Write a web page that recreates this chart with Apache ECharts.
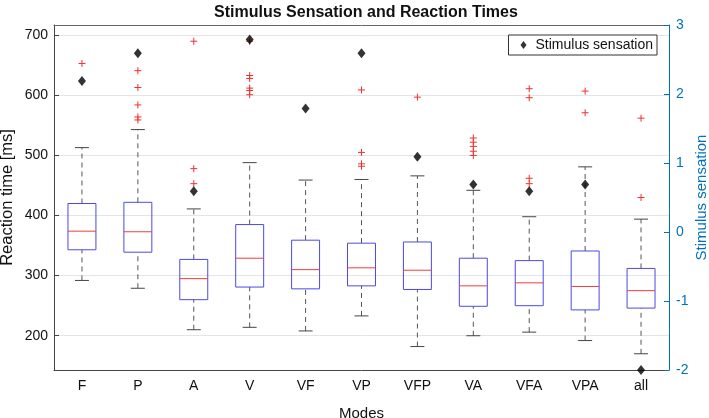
<!DOCTYPE html>
<html><head><meta charset="utf-8">
<script src="https://cdn.jsdelivr.net/npm/echarts@6/dist/echarts.min.js"></script>
<style>html,body{margin:0;padding:0;background:#fff}#c{width:709px;height:418px}</style>
</head><body><div id="c"></div>
<script>
const modes = ['F','P','A','V','VF','VP','VFP','VA','VFA','VPA','all'];
const whiskerLow  = [292,279,210,214,208,233,182,200,206,192,170];
const q1          = [343,339,260,281,278,283,277,249,250,243,246];
const median      = [374,373,295,329,310,313,309,283,288,282,275];
const q3          = [420,422,327,385,359,354,356,329,325,341,312];
const whiskerHigh = [513,543,411,488,459,460,466,442,398,481,394];
const outliers = [
  [653],
  [641,613,584,564,559],
  [690,478,453],
  [690,633,628,612,608,601],
  [],
  [609,505,486,482],
  [597],
  [529,522,515,507,500],
  [611,596,462,453],
  [607,571],
  [562,430]
];
const sensation = [2.19,2.59,0.59,2.79,1.79,2.59,1.09,0.69,0.59,0.69,-2];
const leftTicks = [200,300,400,500,600,700];

const FONT = '"Liberation Sans", Arial, Helvetica, sans-serif';
const BLUE_AX = '#0072BD';

const boxData = modes.map((m,i)=>[i, whiskerLow[i], q1[i], median[i], q3[i], whiskerHigh[i]]);
const outData = [];
outliers.forEach((arr,i)=>arr.forEach(v=>outData.push([i,v])));
const sensData = sensation.map((v,i)=>[i,v]);

function renderBox(params, api){
  const i = api.value(0);
  const lo = api.coord([i, api.value(1)]);
  const b1 = api.coord([i, api.value(2)]);
  const md = api.coord([i, api.value(3)]);
  const b3 = api.coord([i, api.value(4)]);
  const hi = api.coord([i, api.value(5)]);
  const bw = api.size([1,0])[0]*0.5;
  const x = lo[0];
  const cw = bw/4;
  const dash = {stroke:'#555', lineWidth:1, lineDash:[5,4], fill:null};
  const cap = {stroke:'#444', lineWidth:1, fill:null};
  return {type:'group', children:[
    {type:'line', shape:{x1:x,y1:b3[1],x2:x,y2:hi[1]}, style:dash},
    {type:'line', shape:{x1:x,y1:lo[1],x2:x,y2:b1[1]}, style:dash},
    {type:'line', shape:{x1:x-cw,y1:hi[1],x2:x+cw,y2:hi[1]}, style:cap},
    {type:'line', shape:{x1:x-cw,y1:lo[1],x2:x+cw,y2:lo[1]}, style:cap},
    {type:'rect', shape:{x:x-bw/2,y:b3[1],width:bw,height:b1[1]-b3[1]}, style:{stroke:'#4a4ae6',lineWidth:1,fill:null}},
    {type:'line', shape:{x1:x-bw/2,y1:md[1],x2:x+bw/2,y2:md[1]}, style:{stroke:'#f03c3c',lineWidth:1}}
  ]};
}
function renderPlus(params, api){
  const p = api.coord([api.value(0), api.value(1)]);
  const s = 3.5;
  return {type:'group', children:[
    {type:'line', shape:{x1:p[0]-s,y1:p[1],x2:p[0]+s,y2:p[1]}, style:{stroke:'#f03030',lineWidth:1}},
    {type:'line', shape:{x1:p[0],y1:p[1]-s,x2:p[0],y2:p[1]+s}, style:{stroke:'#f03030',lineWidth:1}}
  ]};
}

const chart = echarts.init(document.getElementById('c'), null, {renderer:'canvas'});
chart.setOption({
  animation:false,
  backgroundColor:'#fff',
  textStyle:{fontFamily:FONT},
  title:{text:'Stimulus Sensation and Reaction Times', left:361, textAlign:'center', top:0,
    textStyle:{fontFamily:FONT, fontWeight:'bold', fontSize:16, color:'#111'}},
  grid:{left:54, right:40, top:25, bottom:48, show:false, containLabel:false, outerBoundsMode:'none'},
  legend:{data:[{name:'Stimulus sensation', icon:'diamond'}], right:52, top:35,
    itemWidth:6, itemHeight:8, itemGap:5,
    borderColor:'#333', borderWidth:1, borderRadius:0, backgroundColor:'#fff', padding:[3,4,3,12],
    textStyle:{fontFamily:FONT, fontSize:14, color:'#111', padding:[0,0,0,4]}},
  xAxis:[
    {type:'category', data:modes, position:'bottom', boundaryGap:true,
     axisLine:{onZero:false, lineStyle:{color:'#444'}},
     axisTick:{inside:true, alignWithLabel:true, length:5, lineStyle:{color:'#444'}},
     axisLabel:{fontFamily:FONT, fontSize:14, color:'#111', margin:9},
     name:'Modes', nameLocation:'middle', nameGap:36,
     nameTextStyle:{fontFamily:FONT, fontSize:15, color:'#111'}},
    {type:'category', data:modes, position:'top', boundaryGap:true,
     axisLine:{onZero:false, lineStyle:{color:'#666'}},
     axisTick:{inside:true, alignWithLabel:true, length:5, lineStyle:{color:'#555'}},
     axisLabel:{show:false}}
  ],
  yAxis:[
    {type:'value', min:143, max:717, position:'left',
     axisLine:{show:true, onZero:false, lineStyle:{color:'#444'}},
     axisTick:{show:true, inside:true, length:5, customValues:leftTicks, lineStyle:{color:'#444'}},
     axisLabel:{customValues:leftTicks, fontFamily:FONT, fontSize:14, color:'#111', margin:6},
     splitLine:{show:true, lineStyle:{color:'#e4e4e4'}},
     name:'Reaction time [ms]', nameLocation:'middle', nameGap:38, nameRotate:90, nameMoveOverlap:false,
     nameTextStyle:{fontFamily:FONT, fontSize:16.5, color:'#111'}},
    {type:'value', min:-2, max:3, interval:1, position:'right',
     axisLine:{show:true, onZero:false, lineStyle:{color:BLUE_AX}},
     axisTick:{show:true, inside:true, length:5, lineStyle:{color:BLUE_AX}},
     axisLabel:{fontFamily:FONT, fontSize:14, color:BLUE_AX, margin:7},
     splitLine:{show:false},
     name:'Stimulus sensation', nameLocation:'middle', nameGap:25, nameRotate:90, nameMoveOverlap:false,
     nameTextStyle:{fontFamily:FONT, fontSize:15, color:BLUE_AX}}
  ],
  series:[
    {type:'custom', name:'box', renderItem:renderBox, data:boxData, xAxisIndex:0, yAxisIndex:0,
     encode:{x:0, y:[1,2,3,4,5]}, z:2, silent:true},
    {type:'custom', name:'outliers', renderItem:renderPlus, data:outData, xAxisIndex:0, yAxisIndex:0,
     encode:{x:0, y:1}, z:3, silent:true},
    {type:'scatter', name:'Stimulus sensation', data:sensData, xAxisIndex:0, yAxisIndex:1,
     symbol:'diamond', symbolSize:[8,10], itemStyle:{color:'#000'}, z:5, clip:false}
  ]
});
</script></body></html>
